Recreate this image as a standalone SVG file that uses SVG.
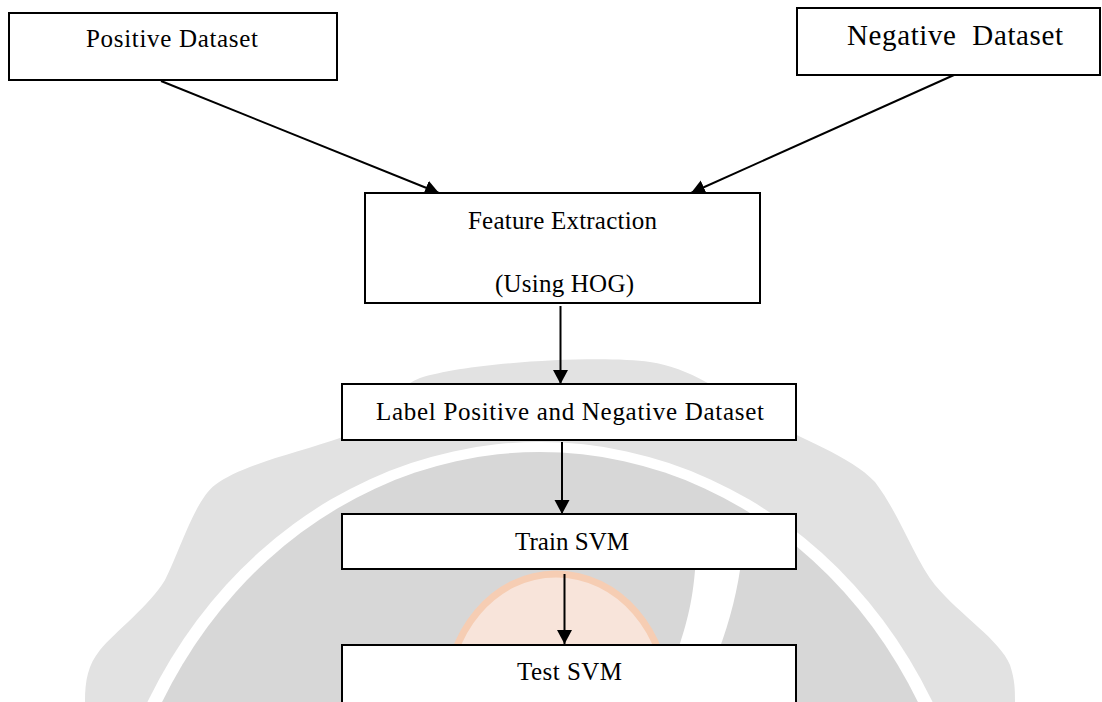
<svg xmlns="http://www.w3.org/2000/svg" width="1102" height="702" viewBox="0 0 1102 702">
  <defs>
    <marker id="arrow" markerUnits="userSpaceOnUse" markerWidth="16" markerHeight="16" refX="14" refY="7.5" orient="auto">
      <path d="M0,0 L14,7.5 L0,15 Z" fill="#000"/>
    </marker>
    <style>
      .box { fill: #fff; stroke: #000; stroke-width: 2; }
      .lbl { font-family: "Liberation Serif", "Times New Roman", serif; font-size: 25px; fill: #000; text-anchor: middle; }
      .edge { stroke: #000; stroke-width: 2; fill: none; marker-end: url(#arrow); }
    </style>
  </defs>
  <rect x="0" y="0" width="1102" height="702" fill="#fff"/>

  <g id="watermark">
    <path d="M 85,702 C 85,680 88,665 100,650 C 115,632 150,605 165,580 C 180,550 195,500 215,485 C 240,465 300,452 340,438 C 370,425 390,390 420,378 C 470,362 600,355 650,362 C 690,368 720,390 760,415 C 800,440 850,455 875,482 C 900,515 915,560 935,585 C 960,615 1000,640 1010,665 C 1015,680 1015,690 1015,702 Z" fill="#e2e2e2"/>
    <ellipse cx="540" cy="930" rx="444" ry="488" fill="#fff"/>
    <ellipse cx="540" cy="930" rx="430" ry="478" fill="#d7d7d7"/>
    <path d="M 696,555 C 694,600 686,625 678,650 L 719,650 C 730,620 738,590 742,555 Z" fill="#fff"/>
    <path d="M 446,702 C 446,632 494,574 556,574 C 619,574 668,632 668,702 Z" fill="#f8e4da" stroke="#f6cdb3" stroke-width="7"/>
  </g>

  <g id="connectors">
    <line class="edge" x1="161" y1="81" x2="439" y2="193"/>
    <line class="edge" x1="954" y1="75" x2="691" y2="193"/>
    <line class="edge" x1="560.5" y1="306" x2="560.5" y2="384"/>
    <line class="edge" x1="562" y1="442" x2="562" y2="514"/>
    <line class="edge" x1="564.5" y1="574" x2="564.5" y2="644"/>
  </g>

  <g id="positive-dataset">
    <rect class="box" x="9" y="13" width="328" height="67"/>
    <text class="lbl" x="172" y="47" textLength="172" lengthAdjust="spacing">Positive Dataset</text>
  </g>

  <g id="negative-dataset">
    <rect class="box" x="797" y="8" width="303" height="67"/>
    <text class="lbl" x="955" y="45" style="font-size:29px" textLength="216" lengthAdjust="spacing" xml:space="preserve">Negative  Dataset</text>
  </g>

  <g id="feature-extraction">
    <rect class="box" x="365" y="193" width="395" height="110"/>
    <text class="lbl" x="562.5" y="229" textLength="189" lengthAdjust="spacing">Feature Extraction</text>
    <text class="lbl" x="564.5" y="292" textLength="139" lengthAdjust="spacing">(Using HOG)</text>
  </g>

  <g id="label-dataset">
    <rect class="box" x="342" y="384" width="454" height="56"/>
    <text class="lbl" x="570" y="420" textLength="388" lengthAdjust="spacing">Label Positive and Negative Dataset</text>
  </g>

  <g id="train-svm">
    <rect class="box" x="342" y="514" width="454" height="55"/>
    <text class="lbl" x="572" y="550" textLength="114" lengthAdjust="spacing">Train SVM</text>
  </g>

  <g id="test-svm">
    <rect class="box" x="342" y="645" width="454" height="70"/>
    <text class="lbl" x="569.5" y="680" textLength="105" lengthAdjust="spacing">Test SVM</text>
  </g>
</svg>
